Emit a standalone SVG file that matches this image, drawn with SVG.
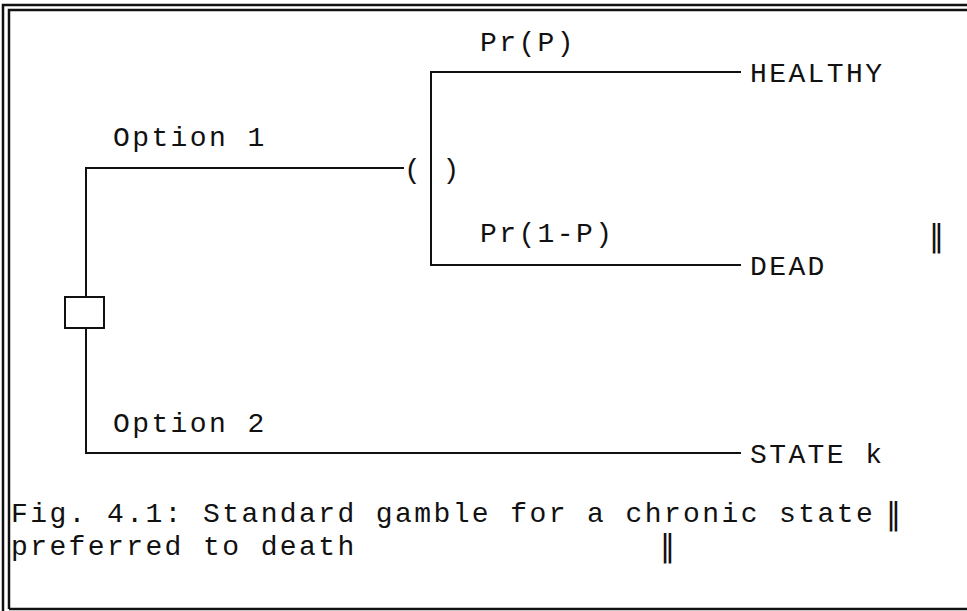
<svg xmlns="http://www.w3.org/2000/svg" width="967" height="611" viewBox="0 0 967 611">
  <style>
    .frame { fill: none; stroke: #111; stroke-width: 2.5; }
    .edge { fill: none; stroke: #111; stroke-width: 2; stroke-linecap: square; }
    .lbl { font-family: "Liberation Mono", "Courier New", monospace; font-size: 28px; letter-spacing: 2.4px; fill: #111; }
    .bar { font-family: "DejaVu Sans", "Liberation Sans", sans-serif; font-size: 30px; fill: #111; }
  </style>

  <rect width="967" height="611" fill="#fff"/>

  <!-- page frame: double rule at top and left, single rule at bottom -->
  <g id="frame">
    <polyline class="frame" points="3,611 3,5 967,5"/>
    <polyline class="frame" points="9,609 9,10 967,10"/>
    <line class="frame" x1="9" y1="609" x2="967" y2="609"/>
  </g>

  <!-- branches of the decision tree -->
  <g id="connectors">
    <!-- Option 1 branch to the chance node -->
    <polyline class="edge" points="86,297 86,168 403,168"/>
    <!-- chance node outcomes -->
    <polyline class="edge" points="740,72 431,72 431,265 740,265"/>
    <!-- Option 2 branch -->
    <polyline class="edge" points="86,328 86,453 740,453"/>
  </g>

  <g id="decision">
    <rect class="edge" x="65" y="297" width="39" height="31"/>
  </g>

  <g id="chance">
    <text class="lbl" x="404" y="178" xml:space="preserve">( )</text>
  </g>

  <g id="option1">
    <text class="lbl" x="113" y="146">Option 1</text>
  </g>
  <g id="option2">
    <text class="lbl" x="113" y="432">Option 2</text>
  </g>

  <g id="prob-p">
    <text class="lbl" x="480" y="51">Pr(P)</text>
  </g>
  <g id="prob-1-p">
    <text class="lbl" x="480" y="242">Pr(1-P)</text>
  </g>

  <g id="healthy">
    <text class="lbl" x="750" y="82">HEALTHY</text>
  </g>
  <g id="dead">
    <text class="lbl" x="750" y="275">DEAD</text>
  </g>
  <g id="state-k">
    <text class="lbl" x="750" y="463">STATE k</text>
  </g>

  <text class="bar" x="929" y="246">‖</text>

  <g id="caption">
    <text class="lbl" x="11" y="522">Fig. 4.1: Standard gamble for a chronic state</text>
    <text class="bar" x="886" y="524">‖</text>
    <text class="lbl" x="11" y="555">preferred to death</text>
    <text class="bar" x="660" y="556">‖</text>
  </g>
</svg>
